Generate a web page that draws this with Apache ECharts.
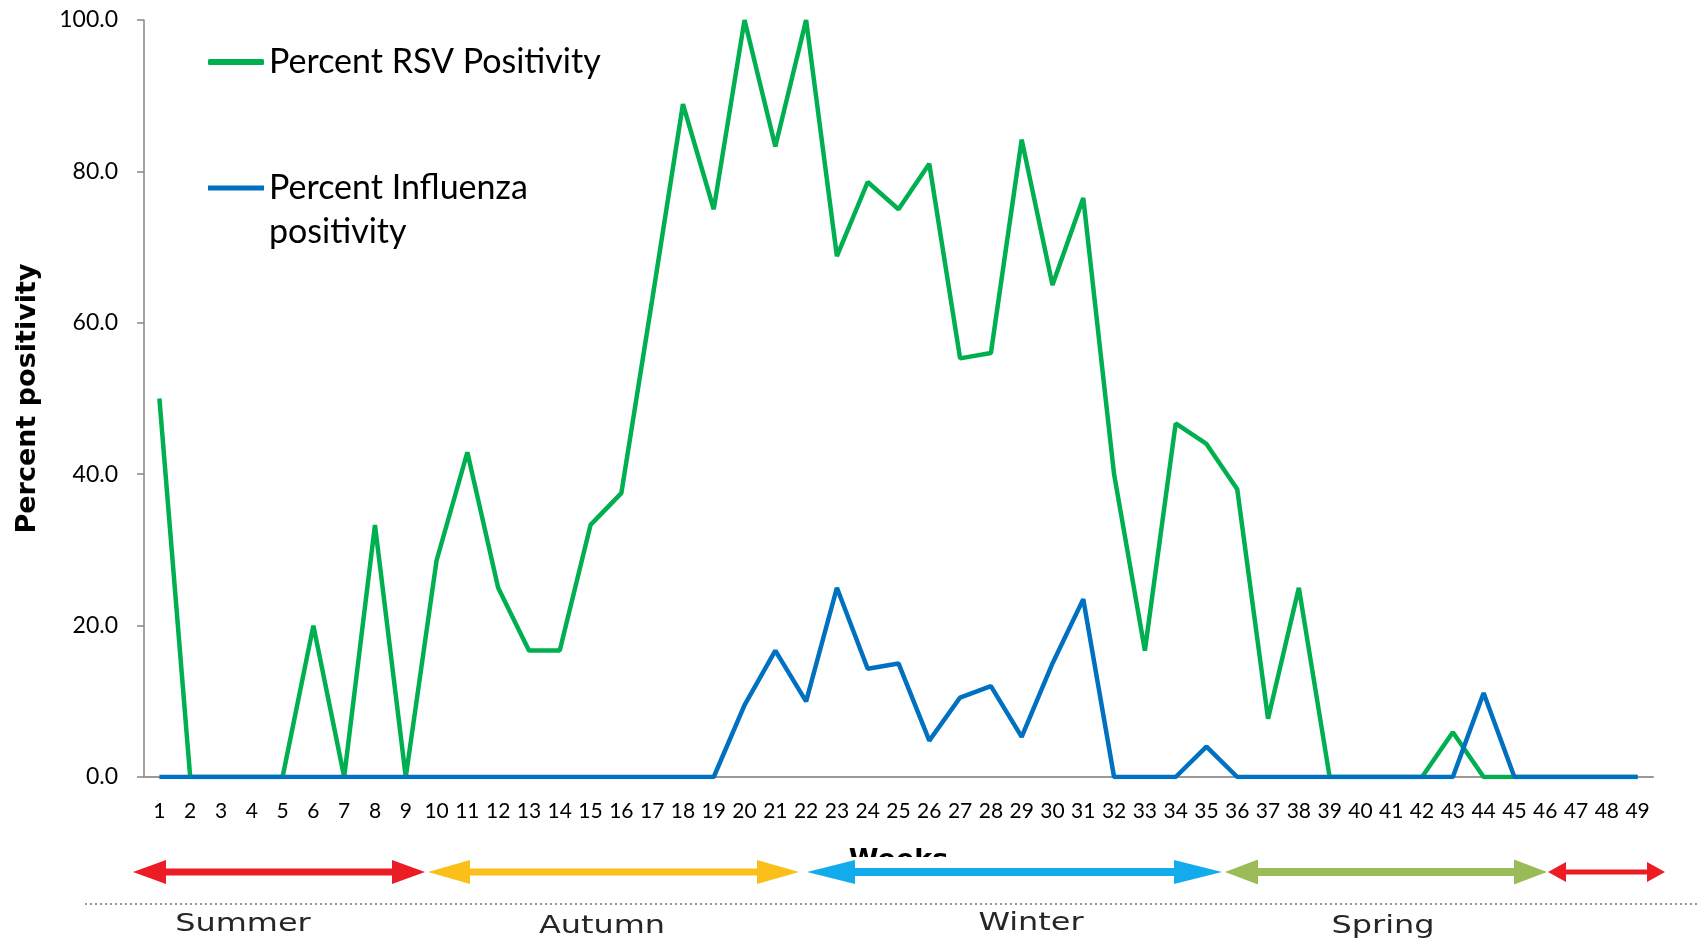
<html>
<head>
    <meta charset="utf-8">
</head>
<body style="margin:0">
    <script src="https://cdn.jsdelivr.net/npm/echarts@6/dist/echarts.min.js"></script>

    <div id="main" style="width: 1700px;height: 944px"></div>

    <script>

var weeks = ['1','2','3','4','5','6','7','8','9','10','11','12','13','14','15','16','17',
    '18','19','20','21','22','23','24','25','26','27','28','29','30','31','32','33',
    '34','35','36','37','38','39','40','41','42','43','44','45','46','47','48','49'];

var rsvPct = [50, 0, 0, 0, 0, 20, 0, 33.3, 0, 28.6, 42.9, 25, 16.7, 16.7, 33.3, 37.5, 63,
    88.9, 75, 100, 83.3, 100, 68.8, 78.6, 75, 81, 55.3, 56, 84.2, 65, 76.5, 40, 16.7,
    46.7, 44, 38, 7.7, 25, 0, 0, 0, 0, 5.9, 0, 0, 0, 0, 0, 0];

var fluPct = [0, 0, 0, 0, 0, 0, 0, 0, 0, 0, 0, 0, 0, 0, 0, 0, 0,
    0, 0, 9.5, 16.7, 10, 25, 14.3, 15, 4.8, 10.5, 12, 5.3, 15, 23.5, 0, 0,
    0, 4, 0, 0, 0, 0, 0, 0, 0, 0, 11.1, 0, 0, 0, 0, 0];

var seasons = ['Summer', 'Autumn', 'Winter', 'Spring'];

// double headed arrow as a polygon
function arrow(x1, x2, y, L, H, t, color) {
    return {
        type: 'polygon', z: 60, silent: true,
        shape: { points: [
            [x1, y], [x1 + L, y - H], [x1 + L, y - t], [x2 - L, y - t], [x2 - L, y - H],
            [x2, y], [x2 - L, y + H], [x2 - L, y + t], [x1 + L, y + t], [x1 + L, y + H]
        ] },
        style: { fill: color }
    };
}

function seasonLabel(name, x, y) {
    return {
        type: 'text', z: 60, silent: true, x: x, y: y, scaleX: 1.33,
        style: { text: name, font: '24px "DejaVu Sans"', fill: '#262626',
            textAlign: 'center', textVerticalAlign: 'middle' }
    };
}

var myChart = echarts.init(document.getElementById('main'));

var option = {
    animation: false,
    grid: { left: 144, right: 47, top: 20, bottom: 167 },
    legend: [
        {
            left: 208, top: 41, orient: 'vertical', padding: 0,
            itemWidth: 56, itemHeight: 6, selectedMode: false,
            data: [{ name: 'Percent RSV Positivity', icon: 'roundRect' }],
            textStyle: { fontFamily: 'Lato', fontSize: 34, color: '#000', lineHeight: 42 }
        },
        {
            left: 208, top: 166, orient: 'vertical', padding: 0,
            itemWidth: 56, itemHeight: 88, selectedMode: false,
            data: [{
                name: 'Percent Influenza positivity',
                icon: 'path://M0,0L0.1,0L0,0.1Z M0,19.5L56,19.5L56,24.5L0,24.5Z M56,88L55.9,88L56,87.9Z'
            }],
            formatter: function () { return 'Percent Influenza\npositivity'; },
            textStyle: { fontFamily: 'Lato', fontSize: 34, color: '#000', lineHeight: 44 }
        }
    ],
    xAxis: {
        type: 'category',
        data: weeks,
        boundaryGap: true,
        axisLine: { lineStyle: { color: '#999', width: 2 } },
        axisTick: { show: false },
        axisLabel: { interval: 0, margin: 24, fontFamily: 'Lato', fontSize: 21, color: '#000' },
        name: 'Weeks',
        nameLocation: 'middle',
        nameGap: 70,
        nameTextStyle: { fontFamily: 'DejaVu Sans', fontWeight: 'bold', fontSize: 27, color: '#000' }
    },
    yAxis: {
        type: 'value',
        min: 0, max: 100, interval: 20,
        splitLine: { show: false },
        axisLine: { show: true, lineStyle: { color: '#888', width: 1.5 } },
        axisTick: { show: true, length: 7, lineStyle: { color: '#888', width: 1.5 } },
        axisLabel: {
            margin: 26, fontFamily: 'Lato', fontSize: 23, color: '#000',
            formatter: function (v) { return v.toFixed(1); }
        },
        name: 'Percent positivity',
        nameLocation: 'middle',
        nameRotate: 90,
        nameGap: 103,
        nameTextStyle: { fontFamily: 'DejaVu Sans', fontWeight: 'bold', fontSize: 27, color: '#000' }
    },
    series: [
        {
            name: 'Percent RSV Positivity',
            type: 'line',
            data: rsvPct,
            color: '#00b050',
            symbol: 'none',
            lineStyle: { width: 4.5 }
        },
        {
            name: 'Percent Influenza positivity',
            type: 'line',
            data: fluPct,
            color: '#0070c0',
            symbol: 'none',
            lineStyle: { width: 4.5 }
        }
    ],
    graphic: { elements: [
        // white band of the season strip, it covers part of the axis name
        { type: 'rect', z: 50, silent: true, shape: { x: 80, y: 857, width: 1620, height: 87 }, style: { fill: '#fff' } },
        arrow(133, 425, 872, 33, 12, 3.5, '#ec1c24'),
        arrow(428, 799, 872, 42, 12, 3.5, '#fbbf1a'),
        arrow(807, 1222, 872, 48, 12, 4, '#12acec'),
        arrow(1225, 1547, 872, 33, 12.5, 4, '#9bbb59'),
        arrow(1548, 1665, 872, 18, 10, 2.5, '#ec1c24'),
        { type: 'line', z: 60, silent: true, shape: { x1: 85, y1: 904, x2: 1700, y2: 904 },
          style: { stroke: '#777', lineWidth: 1.5, lineDash: [2, 3] } },
        seasonLabel(seasons[0], 243, 925),
        seasonLabel(seasons[1], 602, 927),
        seasonLabel(seasons[2], 1031, 924),
        seasonLabel(seasons[3], 1383, 927)
    ] }
};

myChart.setOption(option);

</script>
</body>

</html>
